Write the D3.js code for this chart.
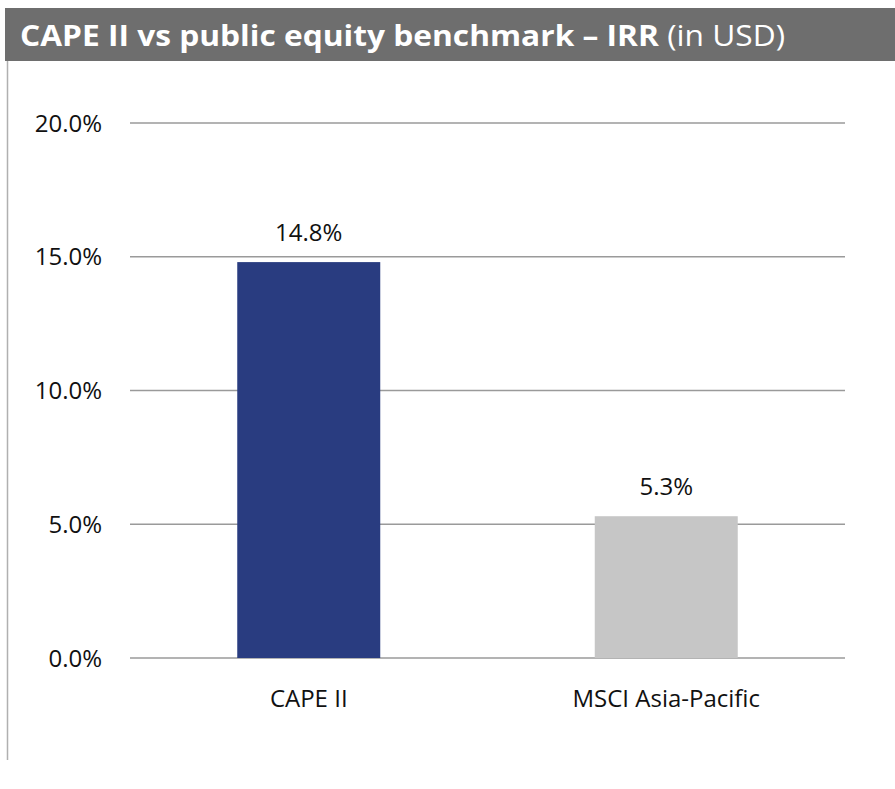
<!DOCTYPE html>
<html>
<head>
<meta charset="utf-8">
<script src="https://cdn.jsdelivr.net/npm/d3@7"></script>
<style>
  body { margin: 0; background: #fff; }
  svg { display: block; }
  text { font-family: "Open Sans", "Liberation Sans", sans-serif; }
</style>
</head>
<body>
<div id="chart"></div>
<script>
// chart data
const categories = ["CAPE II", "MSCI Asia-Pacific"];
const values = [0.148, 0.053];
const barColors = ["#293c80", "#c6c6c6"];
const yTicks = [0, 0.05, 0.10, 0.15, 0.20];
const titleBold = "CAPE II vs public equity benchmark – IRR";
const titleLight = " (in USD)";

const width = 895, height = 789;
const plot = { left: 130, right: 845, top: 123, bottom: 658 };
const labelSize = 24;

const svg = d3.select("#chart").append("svg")
    .attr("width", width)
    .attr("height", height);

// header band
svg.append("rect")
    .attr("x", 5).attr("y", 8)
    .attr("width", width - 5).attr("height", 53)
    .attr("fill", "#6e6e6e");

const title = svg.append("text")
    .attr("x", 20).attr("y", 46)
    .attr("fill", "#fff")
    .attr("font-size", 29)
    .attr("textLength", 765)
    .attr("lengthAdjust", "spacingAndGlyphs");
title.append("tspan").attr("font-weight", 700).text(titleBold);
title.append("tspan").attr("font-weight", 400).text(titleLight);

// left frame line
svg.append("line")
    .attr("x1", 7.5).attr("x2", 7.5)
    .attr("y1", 61).attr("y2", 760)
    .attr("stroke", "#b0b0b0")
    .attr("stroke-width", 1.5);

const x = d3.scaleBand()
    .domain(categories)
    .range([plot.left, plot.right])
    .paddingInner(0.6)
    .paddingOuter(0.3);

const y = d3.scaleLinear()
    .domain([0, 0.2])
    .range([plot.bottom, plot.top]);

// gridlines
svg.append("g")
    .selectAll("line")
    .data(yTicks)
    .join("line")
    .attr("x1", plot.left).attr("x2", plot.right)
    .attr("y1", d => y(d)).attr("y2", d => y(d))
    .attr("stroke", "#9a9a9a")
    .attr("stroke-width", 1.3);

// y tick labels
svg.append("g")
    .selectAll("text")
    .data(yTicks)
    .join("text")
    .attr("x", 102)
    .attr("y", d => y(d))
    .attr("dy", "0.36em")
    .attr("text-anchor", "end")
    .attr("font-size", labelSize)
    .attr("fill", "#111")
    .text(d => d3.format(".1%")(d));

// bars
const data = categories.map((c, i) => ({ cat: c, val: values[i], color: barColors[i] }));

svg.append("g")
    .selectAll("rect")
    .data(data)
    .join("rect")
    .attr("x", d => x(d.cat))
    .attr("width", x.bandwidth())
    .attr("y", d => y(d.val))
    .attr("height", d => y(0) - y(d.val))
    .attr("fill", d => d.color);

// value labels
svg.append("g")
    .selectAll("text")
    .data(data)
    .join("text")
    .attr("x", d => x(d.cat) + x.bandwidth() / 2)
    .attr("y", d => y(d.val) - 21)
    .attr("text-anchor", "middle")
    .attr("font-size", labelSize)
    .attr("fill", "#111")
    .text(d => d3.format(".1%")(d.val));

// category labels
svg.append("g")
    .selectAll("text")
    .data(categories)
    .join("text")
    .attr("x", d => x(d) + x.bandwidth() / 2)
    .attr("y", 707)
    .attr("text-anchor", "middle")
    .attr("font-size", labelSize)
    .attr("fill", "#111")
    .text(d => d);
</script>
</body>
</html>
